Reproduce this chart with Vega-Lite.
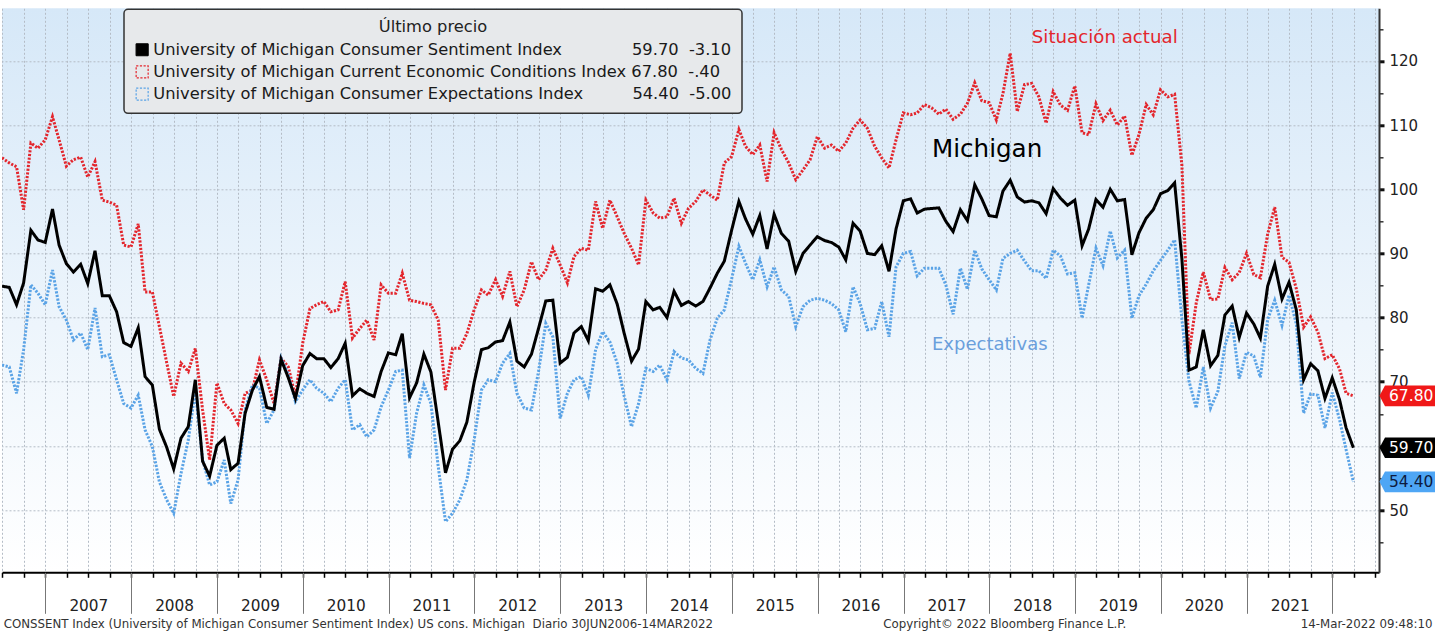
{
"$schema": "https://vega.github.io/schema/vega-lite/v6.json",
"width": 1377, "height": 564,
"autosize": {"type": "none"},
"padding": {"left": 2, "top": 8.3, "right": 56, "bottom": 60.7},
"background": "white",
"view": {"stroke": null, "fill": {"gradient": "linear", "x1": 0, "y1": 0, "x2": 0, "y2": 1, "stops": [{"offset": 0, "color": "#d6e8f8"}, {"offset": 1, "color": "#ffffff"}]}},
"config": {"font": "DejaVu Sans", "text": {"font": "DejaVu Sans"}, "axis": {"labelFont": "DejaVu Sans"}, "legend": {"labelFont": "DejaVu Sans", "titleFont": "DejaVu Sans"}},
"data": {"values": [
{"d":"2006-06-30","s":84.9,"c":104.9,"e":72.6},{"d":"2006-07-31","s":84.7,"c":104.1,"e":72.3},{"d":"2006-08-31","s":82.0,"c":103.5,"e":68.2},{"d":"2006-09-30","s":85.4,"c":96.8,"e":75.0},{"d":"2006-10-31","s":93.6,"c":107.2,"e":85.1},{"d":"2006-11-30","s":92.1,"c":106.4,"e":83.8},{"d":"2006-12-31","s":91.7,"c":107.7,"e":82.0},
{"d":"2007-01-31","s":96.9,"c":111.3,"e":87.4},{"d":"2007-02-28","s":91.3,"c":107.7,"e":81.7},{"d":"2007-03-31","s":88.4,"c":103.6,"e":79.6},{"d":"2007-04-30","s":87.1,"c":104.6,"e":76.5},{"d":"2007-05-31","s":88.3,"c":105.0,"e":77.6},{"d":"2007-06-30","s":85.3,"c":101.9,"e":75.0},{"d":"2007-07-31","s":90.4,"c":104.3,"e":81.5},{"d":"2007-08-31","s":83.4,"c":98.3,"e":73.9},{"d":"2007-09-30","s":83.4,"c":98.0,"e":74.2},{"d":"2007-10-31","s":80.9,"c":97.5,"e":70.3},{"d":"2007-11-30","s":76.1,"c":91.3,"e":66.6},{"d":"2007-12-31","s":75.5,"c":91.0,"e":65.9},
{"d":"2008-01-31","s":78.4,"c":94.6,"e":67.9},{"d":"2008-02-29","s":70.8,"c":84.0,"e":62.5},{"d":"2008-03-31","s":69.5,"c":84.0,"e":59.9},{"d":"2008-04-30","s":62.6,"c":78.6,"e":54.4},{"d":"2008-05-31","s":59.8,"c":73.0,"e":51.6},{"d":"2008-06-30","s":56.4,"c":67.7,"e":49.5},{"d":"2008-07-31","s":61.2,"c":72.9,"e":55.7},{"d":"2008-08-31","s":63.0,"c":71.6,"e":60.9},{"d":"2008-09-30","s":70.3,"c":75.2,"e":68.7},{"d":"2008-10-31","s":57.6,"c":65.6,"e":57.8},{"d":"2008-11-30","s":55.3,"c":57.8,"e":53.9},{"d":"2008-12-31","s":60.1,"c":69.8,"e":54.4},
{"d":"2009-01-31","s":61.2,"c":66.6,"e":57.8},{"d":"2009-02-28","s":56.3,"c":65.6,"e":51.0},{"d":"2009-03-31","s":57.3,"c":63.5,"e":54.7},{"d":"2009-04-30","s":65.1,"c":68.2,"e":65.6},{"d":"2009-05-31","s":68.7,"c":68.7,"e":69.5},{"d":"2009-06-30","s":70.8,"c":73.4,"e":69.0},{"d":"2009-07-31","s":66.0,"c":70.3,"e":63.5},{"d":"2009-08-31","s":65.7,"c":66.6,"e":65.6},{"d":"2009-09-30","s":73.5,"c":73.7,"e":73.7},{"d":"2009-10-31","s":70.6,"c":72.3,"e":71.1},{"d":"2009-11-30","s":67.4,"c":67.7,"e":66.9},{"d":"2009-12-31","s":72.5,"c":76.0,"e":68.7},
{"d":"2010-01-31","s":74.4,"c":81.4,"e":70.3},{"d":"2010-02-28","s":73.6,"c":82.0,"e":69.0},{"d":"2010-03-31","s":73.6,"c":82.5,"e":68.2},{"d":"2010-04-30","s":72.2,"c":80.9,"e":66.9},{"d":"2010-05-31","s":73.6,"c":81.2,"e":69.0},{"d":"2010-06-30","s":76.0,"c":85.6,"e":70.3},{"d":"2010-07-31","s":67.8,"c":76.8,"e":62.5},{"d":"2010-08-31","s":68.9,"c":78.3,"e":63.3},{"d":"2010-09-30","s":68.2,"c":79.6,"e":61.4},{"d":"2010-10-31","s":67.7,"c":76.5,"e":62.5},{"d":"2010-11-30","s":71.6,"c":85.1,"e":66.1},{"d":"2010-12-31","s":74.5,"c":83.8,"e":68.7},
{"d":"2011-01-31","s":74.2,"c":83.8,"e":71.6},{"d":"2011-02-28","s":77.5,"c":86.9,"e":71.8},{"d":"2011-03-31","s":67.5,"c":82.7,"e":58.1},{"d":"2011-04-30","s":69.8,"c":82.5,"e":65.1},{"d":"2011-05-31","s":74.3,"c":82.2,"e":69.5},{"d":"2011-06-30","s":71.5,"c":82.0,"e":66.6},{"d":"2011-07-31","s":63.7,"c":79.6,"e":56.8},{"d":"2011-08-31","s":55.8,"c":68.7,"e":48.2},{"d":"2011-09-30","s":59.5,"c":75.2,"e":49.5},{"d":"2011-10-31","s":60.8,"c":75.2,"e":51.6},{"d":"2011-11-30","s":63.7,"c":77.5,"e":54.7},{"d":"2011-12-31","s":69.9,"c":81.2,"e":60.9},
{"d":"2012-01-31","s":75.0,"c":84.3,"e":68.7},{"d":"2012-02-29","s":75.3,"c":83.5,"e":70.3},{"d":"2012-03-31","s":76.2,"c":85.9,"e":70.0},{"d":"2012-04-30","s":76.4,"c":83.3,"e":72.9},{"d":"2012-05-31","s":79.3,"c":87.2,"e":74.4},{"d":"2012-06-30","s":73.2,"c":81.7,"e":68.2},{"d":"2012-07-31","s":72.3,"c":84.3,"e":65.9},{"d":"2012-08-31","s":74.3,"c":88.7,"e":65.6},{"d":"2012-09-30","s":78.3,"c":85.9,"e":71.6},{"d":"2012-10-31","s":82.6,"c":87.4,"e":79.1},{"d":"2012-11-30","s":82.7,"c":90.8,"e":77.0},{"d":"2012-12-31","s":72.9,"c":88.2,"e":64.3},
{"d":"2013-01-31","s":73.8,"c":85.4,"e":68.2},{"d":"2013-02-28","s":77.6,"c":89.5,"e":70.3},{"d":"2013-03-31","s":78.6,"c":90.8,"e":70.8},{"d":"2013-04-30","s":76.4,"c":90.5,"e":67.9},{"d":"2013-05-31","s":84.5,"c":98.1,"e":75.0},{"d":"2013-06-30","s":84.1,"c":93.9,"e":77.8},{"d":"2013-07-31","s":85.1,"c":98.3,"e":76.2},{"d":"2013-08-31","s":82.1,"c":95.7,"e":72.9},{"d":"2013-09-30","s":77.5,"c":93.1,"e":67.7},{"d":"2013-10-31","s":73.2,"c":90.8,"e":63.0},{"d":"2013-11-30","s":75.1,"c":88.2,"e":66.6},{"d":"2013-12-31","s":82.5,"c":98.3,"e":72.1},
{"d":"2014-01-31","s":81.2,"c":96.3,"e":71.6},{"d":"2014-02-28","s":81.6,"c":95.5,"e":72.6},{"d":"2014-03-31","s":80.0,"c":95.7,"e":70.3},{"d":"2014-04-30","s":84.1,"c":98.6,"e":74.7},{"d":"2014-05-31","s":81.9,"c":94.7,"e":73.7},{"d":"2014-06-30","s":82.5,"c":97.0,"e":73.4},{"d":"2014-07-31","s":81.8,"c":98.1,"e":72.1},{"d":"2014-08-31","s":82.5,"c":99.9,"e":71.3},{"d":"2014-09-30","s":84.6,"c":99.1,"e":76.5},{"d":"2014-10-31","s":86.9,"c":98.3,"e":79.9},{"d":"2014-11-30","s":88.8,"c":104.1,"e":81.2},{"d":"2014-12-31","s":93.6,"c":105.1,"e":86.0},
{"d":"2015-01-31","s":98.1,"c":109.3,"e":91.1},{"d":"2015-02-28","s":95.4,"c":106.7,"e":88.5},{"d":"2015-03-31","s":93.0,"c":105.4,"e":85.9},{"d":"2015-04-30","s":95.9,"c":106.9,"e":89.0},{"d":"2015-05-31","s":90.7,"c":101.2,"e":84.8},{"d":"2015-06-30","s":96.1,"c":108.8,"e":87.9},{"d":"2015-07-31","s":93.1,"c":106.2,"e":84.3},{"d":"2015-08-31","s":91.9,"c":104.1,"e":83.3},{"d":"2015-09-30","s":87.2,"c":101.5,"e":78.6},{"d":"2015-10-31","s":90.0,"c":103.0,"e":81.7},{"d":"2015-11-30","s":91.3,"c":104.6,"e":82.7},{"d":"2015-12-31","s":92.6,"c":108.2,"e":83.0},
{"d":"2016-01-31","s":92.0,"c":106.4,"e":82.7},{"d":"2016-02-29","s":91.7,"c":106.9,"e":82.2},{"d":"2016-03-31","s":91.0,"c":105.9,"e":81.2},{"d":"2016-04-30","s":89.0,"c":107.2,"e":77.8},{"d":"2016-05-31","s":94.7,"c":109.5,"e":84.8},{"d":"2016-06-30","s":93.5,"c":110.8,"e":82.2},{"d":"2016-07-31","s":90.0,"c":109.5,"e":78.1},{"d":"2016-08-31","s":89.8,"c":106.7,"e":78.3},{"d":"2016-09-30","s":91.2,"c":104.9,"e":82.5},{"d":"2016-10-31","s":87.2,"c":103.3,"e":77.0},{"d":"2016-11-30","s":93.8,"c":107.7,"e":87.9},{"d":"2016-12-31","s":98.2,"c":111.9,"e":90.0},
{"d":"2017-01-31","s":98.5,"c":111.6,"e":90.3},{"d":"2017-02-28","s":96.3,"c":111.9,"e":86.5},{"d":"2017-03-31","s":96.9,"c":113.2,"e":87.7},{"d":"2017-04-30","s":97.0,"c":112.7,"e":87.7},{"d":"2017-05-31","s":97.1,"c":111.7,"e":87.7},{"d":"2017-06-30","s":95.0,"c":112.5,"e":85.1},{"d":"2017-07-31","s":93.4,"c":110.9,"e":80.5},{"d":"2017-08-31","s":96.8,"c":111.7,"e":87.7},{"d":"2017-09-30","s":95.1,"c":113.4,"e":84.4},{"d":"2017-10-31","s":100.7,"c":116.6,"e":90.5},{"d":"2017-11-30","s":98.5,"c":113.8,"e":87.6},{"d":"2017-12-31","s":95.9,"c":113.5,"e":85.9},
{"d":"2018-01-31","s":95.7,"c":110.8,"e":84.3},{"d":"2018-02-28","s":99.7,"c":114.9,"e":89.2},{"d":"2018-03-31","s":101.4,"c":121.2,"e":90.0},{"d":"2018-04-30","s":98.8,"c":112.1,"e":90.5},{"d":"2018-05-31","s":98.0,"c":116.3,"e":88.8},{"d":"2018-06-30","s":98.2,"c":116.5,"e":87.3},{"d":"2018-07-31","s":97.9,"c":114.4,"e":87.3},{"d":"2018-08-31","s":96.2,"c":110.3,"e":86.1},{"d":"2018-09-30","s":100.1,"c":115.2,"e":90.5},{"d":"2018-10-31","s":98.6,"c":113.1,"e":89.6},{"d":"2018-11-30","s":97.5,"c":112.3,"e":86.8},{"d":"2018-12-31","s":98.3,"c":116.1,"e":87.0},
{"d":"2019-01-31","s":91.2,"c":108.8,"e":79.9},{"d":"2019-02-28","s":93.8,"c":108.5,"e":85.1},{"d":"2019-03-31","s":98.4,"c":113.3,"e":90.8},{"d":"2019-04-30","s":97.2,"c":110.7,"e":88.1},{"d":"2019-05-31","s":100.0,"c":112.3,"e":93.5},{"d":"2019-06-30","s":98.2,"c":110.0,"e":89.3},{"d":"2019-07-31","s":98.4,"c":111.4,"e":90.5},{"d":"2019-08-31","s":89.8,"c":105.3,"e":79.9},{"d":"2019-09-30","s":93.2,"c":108.5,"e":83.4},{"d":"2019-10-31","s":95.5,"c":113.2,"e":85.2},{"d":"2019-11-30","s":96.8,"c":111.6,"e":87.3},{"d":"2019-12-31","s":99.3,"c":115.5,"e":88.9},
{"d":"2020-01-31","s":99.8,"c":114.4,"e":90.5},{"d":"2020-02-29","s":101.0,"c":114.8,"e":92.1},{"d":"2020-03-31","s":89.1,"c":103.7,"e":79.7},{"d":"2020-04-30","s":71.8,"c":74.3,"e":70.1},{"d":"2020-05-31","s":72.3,"c":82.3,"e":65.9},{"d":"2020-06-30","s":78.1,"c":87.1,"e":72.3},{"d":"2020-07-31","s":72.5,"c":82.8,"e":65.9},{"d":"2020-08-31","s":74.1,"c":82.9,"e":68.5},{"d":"2020-09-30","s":80.4,"c":87.8,"e":75.6},{"d":"2020-10-31","s":81.8,"c":85.9,"e":79.2},{"d":"2020-11-30","s":76.9,"c":87.0,"e":70.5},{"d":"2020-12-31","s":80.7,"c":90.0,"e":74.6},
{"d":"2021-01-31","s":79.0,"c":86.7,"e":74.0},{"d":"2021-02-28","s":76.8,"c":86.2,"e":70.7},{"d":"2021-03-31","s":84.9,"c":93.0,"e":79.7},{"d":"2021-04-30","s":88.3,"c":97.2,"e":82.7},{"d":"2021-05-31","s":82.9,"c":89.4,"e":78.8},{"d":"2021-06-30","s":85.5,"c":88.6,"e":83.5},{"d":"2021-07-31","s":81.2,"c":84.5,"e":79.0},{"d":"2021-08-31","s":70.3,"c":78.5,"e":65.1},{"d":"2021-09-30","s":72.8,"c":80.1,"e":68.1},{"d":"2021-10-31","s":71.7,"c":77.7,"e":67.9},{"d":"2021-11-30","s":67.4,"c":73.6,"e":62.8},{"d":"2021-12-31","s":70.6,"c":74.2,"e":68.3},
{"d":"2022-01-31","s":67.2,"c":72.0,"e":64.1},{"d":"2022-02-28","s":62.8,"c":68.2,"e":59.4},{"d":"2022-03-31","s":59.7,"c":67.8,"e":54.4}
]},
"resolve": {"axis": {"x": "independent", "y": "independent"}},
"layer": [
{
 "transform": [{"fold": ["c", "e", "s"], "as": ["k", "v"]}],
 "mark": {"type": "line", "clip": true, "strokeCap": "butt"},
 "encoding": {
  "x": {"field": "d", "type": "temporal",
        "scale": {"type": "utc", "domain": [{"year": 2006, "month": 6, "date": 30, "utc": true}, {"year": 2022, "month": 7, "date": 18, "utc": true}]},
        "axis": {"orient": "bottom", "title": null, "tickCount": {"interval": "month", "step": 3}, "labels": false,
                 "grid": true, "gridColor": "#b4bcc6", "gridDash": [2, 2], "gridWidth": 1,
                 "ticks": true, "tickSize": 5, "tickColor": "#000", "tickWidth": 1.5,
                 "domain": true, "domainColor": "#000", "domainWidth": 2}},
  "y": {"field": "v", "type": "quantitative",
        "scale": {"domain": [40.3, 128.2], "nice": false, "zero": false},
        "axis": {"orient": "right", "title": null, "values": [50, 60, 70, 80, 90, 100, 110, 120],
                 "labelExpr": "datum.value == 60 ? '' : datum.label",
                 "grid": true, "gridColor": "#b4bcc6", "gridDash": [2, 2], "gridWidth": 1,
                 "tickSize": 5, "tickWidth": 3, "tickColor": "#111",
                 "labelFontSize": 15, "labelColor": "#222", "labelPadding": 5,
                 "domain": true, "domainColor": "#333", "domainWidth": 2}},
  "color": {"field": "k", "type": "nominal",
            "scale": {"domain": ["s", "c", "e"], "range": ["#000000", "#e3262d", "#5aa3e6"]},
            "legend": {"orient": "none", "legendX": 122, "legendY": 1,
                       "title": "Último precio", "titleFontSize": 16.3, "titleFontWeight": "normal", "titleColor": "#222", "titleAnchor": "middle", "titlePadding": 6,
                       "symbolType": "square", "symbolSize": 144, "symbolStrokeWidth": 1.2,
                       "labelFontSize": 16.3, "labelColor": "#1a1a1a", "labelLimit": 1000, "labelOffset": 3,
                       "rowPadding": 4.2, "padding": 10, "fillColor": "#e7e9eb", "strokeColor": "#333", "cornerRadius": 4,
                       "labelExpr": "datum.value === 's' ? 'University of Michigan Consumer Sentiment Index\u00a0\u00a0\u00a0\u00a0\u00a0\u00a0\u00a0\u00a0\u00a0\u00a0\u00a0\u00a0\u00a0\u200659.70\u00a0\u00a0-3.10' : datum.value === 'c' ? 'University of Michigan Current Economic Conditions Index\u00a067.80\u00a0\u00a0-.40' : 'University of Michigan Consumer Expectations Index\u00a0\u00a0\u00a0\u00a0\u00a0\u00a0\u00a0\u00a0\u00a0\u200654.40\u00a0\u00a0-5.00'",
                       "encode": {"symbols": {"update": {"fill": {"signal": "datum.value === 's' ? '#000' : 'transparent'"}, "strokeWidth": {"value": 1.2}, "strokeDash": {"signal": "datum.value === 's' ? [1, 0] : [1.5, 1.5]"}}},
                                  "legend": {"update": {"strokeWidth": {"value": 1.5}}}}}},
  "strokeDash": {"field": "k", "type": "nominal", "scale": {"domain": ["s", "c", "e"], "range": [[1, 0], [2.2, 1.5], [2.2, 1.5]]}},
  "strokeWidth": {"value": 3}
 }
},
{
 "mark": {"type": "point", "opacity": 0},
 "encoding": {
  "x": {"field": "d", "type": "temporal",
        "axis": {"orient": "bottom", "title": null, "tickCount": {"interval": "year", "step": 1}, "grid": false, "domain": false,
                 "tickSize": 41, "tickColor": "#777", "tickWidth": 1,
                 "labelOffset": 42.9, "labelPadding": -15, "labelFontSize": 15.3, "labelColor": "#222",
                 "labelFlush": false, "labelOverlap": false, "labelBound": false,
                 "labelExpr": "utcyear(datum.value) >= 2022 ? '' : utcFormat(datum.value, '%Y')"}},
  "y": {"field": "s", "type": "quantitative",
        "axis": {"orient": "right", "title": null, "values": [45, 55, 65, 75, 85, 95, 105, 115, 125], "labels": false,
                 "grid": false, "domain": false, "tickSize": 4, "tickWidth": 1.5, "tickColor": "#333"}}
 }
},
{
 "data": {"values": [{"k": "c", "lbl": "67.80", "v": 67.8}, {"k": "s", "lbl": "59.70", "v": 59.7}, {"k": "e", "lbl": "54.40", "v": 54.4}]},
 "mark": {"type": "point", "shape": "M0.05,0L0.6,-1.03L5.6,-1.03L5.6,1.03L0.6,1.03Z", "size": 400, "filled": true, "opacity": 1, "strokeWidth": 0},
 "encoding": {
  "x": {"datum": {"year": 2022, "month": 7, "date": 18, "utc": true}, "type": "temporal", "axis": null},
  "y": {"field": "v", "type": "quantitative", "axis": null},
  "fill": {"condition": [{"test": "datum.k === 's'", "value": "#000000"}, {"test": "datum.k === 'c'", "value": "#f01818"}], "value": "#4ea6f5"}
 }
},
{
 "data": {"values": [{"k": "c", "lbl": "67.80", "v": 67.8}, {"k": "s", "lbl": "59.70", "v": 59.7}, {"k": "e", "lbl": "54.40", "v": 54.4}]},
 "mark": {"type": "text", "align": "left", "baseline": "middle", "dx": 10, "fontSize": 15.5},
 "encoding": {
  "x": {"datum": {"year": 2022, "month": 7, "date": 18, "utc": true}, "type": "temporal", "axis": null},
  "y": {"field": "v", "type": "quantitative", "axis": null},
  "text": {"field": "lbl"},
  "color": {"condition": {"test": "datum.k === 'e'", "value": "#0d1b3e"}, "value": "#ffffff"}
 }
},
{
 "data": {"values": [{}]},
 "mark": {"type": "text", "text": "Situación actual", "align": "left", "baseline": "middle", "fontSize": 18.2, "color": "#e3262d"},
 "encoding": {"x": {"datum": {"year": 2018, "month": 7, "date": 1, "utc": true}, "type": "temporal", "axis": null}, "y": {"datum": 123.6, "type": "quantitative", "axis": null}}
},
{
 "data": {"values": [{}]},
 "mark": {"type": "text", "text": "Michigan", "align": "left", "baseline": "middle", "fontSize": 24.6, "color": "#000000"},
 "encoding": {"x": {"datum": {"year": 2017, "month": 5, "date": 2, "utc": true}, "type": "temporal", "axis": null}, "y": {"datum": 106.1, "type": "quantitative", "axis": null}}
},
{
 "data": {"values": [{}]},
 "mark": {"type": "text", "text": "Expectativas", "align": "left", "baseline": "middle", "fontSize": 18, "color": "#6a9fdc"},
 "encoding": {"x": {"datum": {"year": 2017, "month": 5, "date": 2, "utc": true}, "type": "temporal", "axis": null}, "y": {"datum": 75.7, "type": "quantitative", "axis": null}}
},
{
 "data": {"values": [{}]},
 "mark": {"type": "text", "text": "CONSSENT Index (University of Michigan Consumer Sentiment Index) US cons. Michigan \u00a0Diario 30JUN2006-14MAR2022", "align": "left", "baseline": "middle", "fontSize": 11.8, "color": "#333"},
 "encoding": {"x": {"datum": {"year": 2006, "month": 7, "date": 7, "utc": true}, "type": "temporal", "axis": null}, "y": {"datum": 32.2, "type": "quantitative", "axis": null}}
},
{
 "data": {"values": [{}]},
 "mark": {"type": "text", "text": "Copyright© 2022 Bloomberg Finance L.P.", "align": "center", "baseline": "middle", "fontSize": 11.8, "color": "#333"},
 "encoding": {"x": {"datum": {"year": 2018, "month": 3, "date": 8, "utc": true}, "type": "temporal", "axis": null}, "y": {"datum": 32.2, "type": "quantitative", "axis": null}}
},
{
 "data": {"values": [{}]},
 "mark": {"type": "text", "text": "14-Mar-2022 09:48:10", "align": "right", "baseline": "middle", "fontSize": 11.8, "color": "#333"},
 "encoding": {"x": {"datum": {"year": 2023, "month": 3, "date": 3, "utc": true}, "type": "temporal", "axis": null}, "y": {"datum": 32.2, "type": "quantitative", "axis": null}}
}
]
}
